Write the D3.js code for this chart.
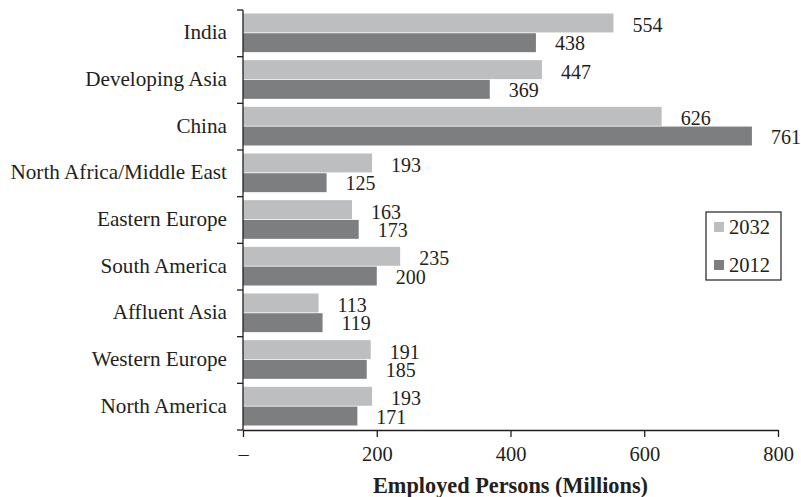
<!DOCTYPE html>
<html>
<head>
<meta charset="utf-8">
<script src="https://cdn.jsdelivr.net/npm/d3@7"></script>
<style>
  html, body { margin: 0; padding: 0; background: #fff; }
  svg text { font-family: "Liberation Serif", "Times New Roman", serif; fill: #231f20; }
</style>
</head>
<body>
<svg id="chart" width="801" height="497"></svg>
<script>
// Employed persons by region, millions
const regions = ["India", "Developing Asia", "China", "North Africa/Middle East",
  "Eastern Europe", "South America", "Affluent Asia", "Western Europe", "North America"];
const years = ["2032", "2012"];
const values2032 = [554, 447, 626, 193, 163, 235, 113, 191, 193];
const values2012 = [438, 369, 761, 125, 173, 200, 119, 185, 171];
const xTicks = [0, 200, 400, 600, 800];
const colors = ["#bdbec0", "#7d7e80"];

const svg = d3.select("#chart");
const plotLeft = 243, plotRight = 778, plotTop = 10, plotBottom = 430;

const x = d3.scaleLinear().domain([0, 800]).range([plotLeft, plotRight]);
const y = d3.scaleBand().domain(regions).range([plotTop, plotBottom]).paddingInner(0).paddingOuter(0);
const ySub = d3.scaleBand().domain(years).range([3.5, y.bandwidth() - 4.5]).paddingInner(0.04);
const color = d3.scaleOrdinal().domain(years).range(colors);
const labelShift = { "2032": 9, "2012": 7.5 };

const rows = regions.map((r, i) => ({ region: r, vals: [
  { year: "2032", v: values2032[i] },
  { year: "2012", v: values2012[i] }
]}));

const g = svg.selectAll("g.row").data(rows).join("g")
  .attr("class", "row")
  .attr("transform", d => `translate(0,${y(d.region)})`);

g.selectAll("rect").data(d => d.vals).join("rect")
  .attr("x", x(0))
  .attr("y", d => ySub(d.year))
  .attr("width", d => x(d.v) - x(0))
  .attr("height", ySub.bandwidth())
  .attr("fill", d => color(d.year));

g.selectAll("text.val").data(d => d.vals).join("text")
  .attr("class", "val")
  .attr("x", d => x(d.v) + 19)
  .attr("y", d => ySub(d.year) + ySub.bandwidth() / 2 + labelShift[d.year])
  .attr("font-size", 20)
  .text(d => d.v);

// Left axis: line with ticks at band boundaries, labels centred on each band
const yEdges = regions.map(r => y(r)).concat([y.range()[1]]);
svg.append("line")
  .attr("x1", plotLeft).attr("x2", plotLeft)
  .attr("y1", plotTop).attr("y2", plotBottom)
  .attr("stroke", "#231f20").attr("stroke-width", 1.3);
svg.selectAll("line.ytick").data(yEdges).join("line")
  .attr("class", "ytick")
  .attr("x1", plotLeft - 6).attr("x2", plotLeft)
  .attr("y1", d => d).attr("y2", d => d)
  .attr("stroke", "#231f20").attr("stroke-width", 1.3);
svg.selectAll("text.cat").data(regions).join("text")
  .attr("class", "cat")
  .attr("x", 227)
  .attr("y", d => y(d) + y.bandwidth() / 2 + 6)
  .attr("text-anchor", "end")
  .attr("font-size", 21.2)
  .text(d => d);

// Bottom axis
const xAxis = d3.axisBottom(x)
  .tickValues(xTicks)
  .tickFormat(d => d === 0 ? "–" : d)
  .tickSize(7)
  .tickSizeOuter(0)
  .tickPadding(9);
const ax = svg.append("g").attr("transform", `translate(0,${plotBottom})`).call(xAxis);
ax.select(".domain").attr("stroke", "#231f20").attr("stroke-width", 1.3);
ax.selectAll(".tick line").attr("stroke", "#231f20").attr("stroke-width", 1.3);
ax.selectAll(".tick text")
  .attr("font-size", 20.5)
  .attr("font-family", "Liberation Serif, serif")
  .attr("fill", "#231f20");

svg.append("text")
  .attr("x", (x(0) + x(800)) / 2 - 0)
  .attr("y", 492.5)
  .attr("text-anchor", "middle")
  .attr("font-size", 22.3)
  .attr("font-weight", "bold")
  .text("Employed Persons (Millions)");

// Legend
const lg = svg.append("g").attr("transform", "translate(706,212)");
lg.append("rect")
  .attr("width", 75).attr("height", 68)
  .attr("fill", "#fff").attr("stroke", "#231f20").attr("stroke-width", 1.2);
years.forEach((yr, i) => {
  const row = lg.append("g").attr("transform", `translate(0,${15 + i * 38})`);
  row.append("rect").attr("x", 8).attr("y", -5).attr("width", 10).attr("height", 10)
    .attr("fill", color(yr));
  row.append("text").attr("x", 23).attr("y", 7).attr("font-size", 20.5).text(yr);
});
</script>
</body>
</html>
